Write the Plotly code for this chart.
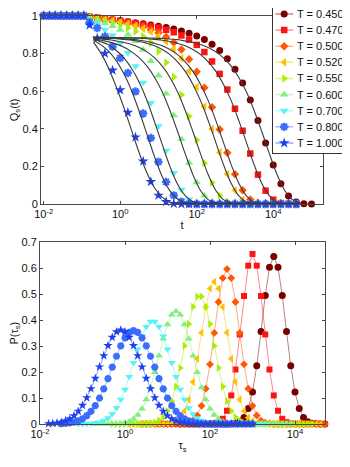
import plotly.graph_objects as go

# ── Series styling (legend order) ──────────────────────────────────────────────
TEMPS   = [0.450, 0.470, 0.500, 0.520, 0.550, 0.600, 0.700, 0.800, 1.000]
COLORS  = ["#7a0000", "#ff1414", "#ff560a", "#ffc000", "#a8f000",
           "#80f080", "#58f2f2", "#3a6cff", "#2040f0"]
SYMBOLS = ["circle", "square", "diamond", "triangle-left", "triangle-right",
           "triangle-up", "triangle-down", "asterisk", "star"]
SIZE_TOP = [7, 6.5, 6.5, 7.5, 7.5, 7.5, 7.5, 7, 8]
SIZE_BOT = [7, 6, 6, 7, 7, 7, 7, 6, 7]

AXIS_COLOR = "#4a4a4a"
FIT_COLOR  = "#3a3a3a"

# ── Top panel: Q_s(t), log10(t) grid ──────────────────────────────────────────
LOG_T = [-2.0, -1.85, -1.7, -1.55, -1.4, -1.25, -1.1, -0.95,
         -0.8, -0.6, -0.4, -0.2, 0.0, 0.2, 0.4, 0.6, 0.8, 1.0, 1.2, 1.4,
         1.6, 1.8, 2.0, 2.2, 2.4, 2.6, 2.8, 3.0, 3.2, 3.4, 3.6, 3.8, 4.0,
         4.2, 4.4, 4.6, 4.8, 5.0]
PLATEAU = [1.0, 1.0, 1.0, 1.0, 1.0, 1.0, 1.0, 1.0]

Q_045 = PLATEAU + [0.995, 0.990, 0.984, 0.979, 0.974, 0.968, 0.963, 0.957, 0.951, 0.944,
                   0.937, 0.929, 0.919, 0.907, 0.892, 0.873, 0.848, 0.815, 0.772, 0.716,
                   0.643, 0.552, 0.443, 0.324, 0.207, 0.108, 0.042, 0.011, 0.002, 0.0]
Q_047 = PLATEAU + [0.995, 0.990, 0.984, 0.978, 0.973, 0.967, 0.960, 0.953, 0.945, 0.937,
                   0.925, 0.912, 0.895, 0.873, 0.845, 0.807, 0.757, 0.691, 0.608, 0.506,
                   0.389, 0.268, 0.156, 0.071, 0.023, 0.005, 0.001, 0.0, None, None]
Q_050 = PLATEAU + [0.993, 0.988, 0.982, 0.975, 0.968, 0.960, 0.951, 0.940, 0.926, 0.909,
                   0.887, 0.858, 0.820, 0.769, 0.702, 0.618, 0.514, 0.396, 0.272, 0.158,
                   0.073, 0.024, 0.005, 0.001, 0.0, 0.0, 0.0, 0.0, None, None]
Q_052 = PLATEAU + [0.993, 0.987, 0.980, 0.973, 0.965, 0.956, 0.945, 0.931, 0.914, 0.892,
                   0.863, 0.824, 0.773, 0.706, 0.622, 0.517, 0.398, 0.274, 0.159, 0.073,
                   0.024, 0.005, 0.001, 0.0, 0.0, 0.0, 0.0, 0.0, None, None]
Q_055 = PLATEAU + [0.989, 0.982, 0.973, 0.963, 0.951, 0.935, 0.916, 0.890, 0.856, 0.810,
                   0.751, 0.675, 0.580, 0.466, 0.340, 0.217, 0.113, 0.045, 0.011, 0.002,
                   0.0, 0.0, 0.0, 0.0, 0.0, 0.0, 0.0, 0.0, None, None]
Q_060 = PLATEAU + [0.983, 0.973, 0.960, 0.945, 0.925, 0.899, 0.865, 0.819, 0.759, 0.682,
                   0.586, 0.471, 0.344, 0.219, 0.115, 0.045, 0.012, 0.002, 0.0, 0.0,
                   0.0, 0.0, 0.0, 0.0, 0.0, 0.0, 0.0, 0.0, None, None]
Q_070 = PLATEAU + [0.975, 0.955, 0.925, 0.895, 0.855, 0.802, 0.732, 0.645, 0.537, 0.413,
                   0.284, 0.165, 0.076, 0.025, 0.005, 0.001, 0.0, 0.0, 0.0, 0.0,
                   0.0, 0.0, 0.0, 0.0, 0.0, 0.0, 0.0, 0.0, None, None]
Q_080 = PLATEAU + [0.965, 0.935, 0.890, 0.836, 0.775, 0.696, 0.598, 0.481, 0.351, 0.224,
                   0.117, 0.046, 0.012, 0.002, 0.0, 0.0, 0.0, 0.0, 0.0, 0.0,
                   0.0, 0.0, 0.0, 0.0, 0.0, 0.0, 0.0, 0.0, None, None]
Q_100 = PLATEAU + [0.950, 0.880, 0.800, 0.710, 0.605, 0.486, 0.355, 0.227, 0.118, 0.046,
                   0.012, 0.002, 0.0, 0.0, 0.0, 0.0, 0.0, 0.0, 0.0, 0.0,
                   0.0, 0.0, 0.0, 0.0, 0.0, 0.0, 0.0, 0.0, None, None]
Q_SERIES = [Q_045, Q_047, Q_050, Q_052, Q_055, Q_060, Q_070, Q_080, Q_100]

# stretched-exponential fits (black lines)
FIT_LOG_T = [-0.7, -0.5, -0.3, -0.1, 0.1, 0.3, 0.5, 0.7, 0.9, 1.1, 1.3, 1.5, 1.7, 1.9,
             2.1, 2.3, 2.5, 2.7, 2.9, 3.1, 3.3, 3.5, 3.7, 3.9, 4.1, 4.3, 4.5, 4.7]
FIT_045 = [0.885, 0.885, 0.885, 0.884, 0.884, 0.883, 0.883, 0.882, 0.881, 0.879, 0.876,
           0.873, 0.866, 0.858, 0.847, 0.831, 0.808, 0.776, 0.732, 0.672, 0.595, 0.497,
           0.385, 0.266, 0.156, 0.072, 0.023, 0.005]
FIT_047 = [0.885, 0.884, 0.883, 0.883, 0.882, 0.881, 0.880, 0.878, 0.874, 0.870, 0.863,
           0.853, 0.840, 0.820, 0.793, 0.755, 0.704, 0.635, 0.549, 0.443, 0.326, 0.209,
           0.110, 0.043, 0.011, 0.002, 0.0, 0.0]
FIT_050 = [0.883, 0.882, 0.881, 0.880, 0.878, 0.874, 0.870, 0.863, 0.853, 0.840, 0.820,
           0.793, 0.755, 0.704, 0.635, 0.549, 0.443, 0.326, 0.209, 0.110, 0.043, 0.011,
           0.002, 0.0, 0.0, 0.0, 0.0, 0.0]
FIT_052 = [0.882, 0.881, 0.880, 0.878, 0.874, 0.870, 0.863, 0.853, 0.840, 0.820, 0.793,
           0.755, 0.704, 0.635, 0.549, 0.443, 0.326, 0.209, 0.110, 0.043, 0.011, 0.002,
           0.0, 0.0, 0.0, 0.0, 0.0, 0.0]
FIT_055 = [0.879, 0.876, 0.873, 0.866, 0.858, 0.847, 0.831, 0.808, 0.776, 0.732, 0.672,
           0.595, 0.497, 0.385, 0.266, 0.156, 0.072, 0.023, 0.005, 0.001, 0.0, 0.0,
           0.0, 0.0, 0.0, 0.0, 0.0, 0.0]
FIT_060 = [0.876, 0.870, 0.861, 0.849, 0.832, 0.808, 0.776, 0.732, 0.672, 0.595, 0.497,
           0.385, 0.266, 0.156, 0.072, 0.023, 0.005, 0.001, 0.0, 0.0, 0.0, 0.0,
           0.0, 0.0, 0.0, 0.0, 0.0, 0.0]
FIT_070 = [0.875, 0.862, 0.845, 0.815, 0.775, 0.720, 0.645, 0.550, 0.435, 0.315, 0.200,
           0.105, 0.045, 0.014, 0.003, 0.0, 0.0, 0.0, 0.0, 0.0, 0.0, 0.0,
           0.0, 0.0, 0.0, 0.0, 0.0, 0.0]
FIT_080 = [0.870, 0.845, 0.810, 0.760, 0.690, 0.600, 0.490, 0.370, 0.250, 0.145, 0.070,
           0.027, 0.008, 0.002, 0.0, 0.0, 0.0, 0.0, 0.0, 0.0, 0.0, 0.0,
           0.0, 0.0, 0.0, 0.0, 0.0, 0.0]
FIT_100 = [0.860, 0.800, 0.720, 0.620, 0.510, 0.390, 0.270, 0.165, 0.085, 0.035, 0.011,
           0.003, 0.0, 0.0, 0.0, 0.0, 0.0, 0.0, 0.0, 0.0, 0.0, 0.0,
           0.0, 0.0, 0.0, 0.0, 0.0, 0.0]
FIT_SERIES = [FIT_045, FIT_047, FIT_050, FIT_052, FIT_055, FIT_060, FIT_070, FIT_080, FIT_100]

# ── Bottom panel: P(tau_s), log10(tau) grid ───────────────────────────────────
LOG_TAU = [-1.8, -1.7, -1.6, -1.5, -1.4, -1.3, -1.2, -1.1, -1.0, -0.9, -0.8, -0.7,
           -0.6, -0.5, -0.4, -0.3, -0.2, -0.1, 0.0, 0.1, 0.2, 0.3, 0.4, 0.5, 0.6,
           0.7, 0.8, 0.9, 1.0, 1.1, 1.2, 1.3, 1.4, 1.5, 1.6, 1.7, 1.8, 1.9, 2.0,
           2.1, 2.2, 2.3, 2.4, 2.5, 2.6, 2.7, 2.8, 2.9, 3.0, 3.1, 3.2, 3.3, 3.4,
           3.5, 3.6, 3.7, 3.8, 3.9, 4.0, 4.1, 4.2, 4.3, 4.4, 4.5, 4.6, 4.7]
# first log10(tau) of each distribution
P_START = [1.3, 0.8, 0.4, 0.1, -0.3, -0.7, -1.1, -1.5, -1.8]

P_045 = [0.0] * 12 + [0.001, 0.003, 0.009, 0.025, 0.060, 0.123, 0.224, 0.356, 0.495, 0.604,
                      0.645, 0.604, 0.495, 0.356, 0.224, 0.123, 0.060, 0.025, 0.009, 0.003,
                      0.001, 0.0, 0.0]
P_047 = [0.0] * 12 + [0.001, 0.002, 0.007, 0.020, 0.051, 0.110, 0.210, 0.345, 0.493, 0.610,
                      0.655, 0.610, 0.493, 0.345, 0.210, 0.110, 0.051, 0.020, 0.007, 0.002,
                      0.001] + [0.0] * 7
P_050 = [0.0] * 10 + [0.002, 0.005, 0.013, 0.033, 0.070, 0.136, 0.230, 0.351, 0.470, 0.562,
                      0.597, 0.562, 0.470, 0.351, 0.230, 0.136, 0.070, 0.033, 0.013, 0.005,
                      0.002] + [0.0] * 13
P_052 = [0.0] * 9 + [0.001, 0.004, 0.011, 0.024, 0.050, 0.094, 0.162, 0.251, 0.352, 0.451,
                     0.522, 0.548, 0.522, 0.451, 0.352, 0.251, 0.162, 0.094, 0.050, 0.024,
                     0.011, 0.004, 0.001] + [0.0] * 14
P_055 = [0.0] * 8 + [0.001, 0.002, 0.005, 0.013, 0.026, 0.050, 0.088, 0.144, 0.216, 0.301,
                     0.385, 0.452, 0.491, 0.491, 0.452, 0.385, 0.301, 0.216, 0.144, 0.088,
                     0.050, 0.026, 0.013, 0.005, 0.002, 0.001] + [0.0] * 14
P_060 = [0.0] * 5 + [0.001, 0.002, 0.005, 0.010, 0.019, 0.035, 0.059, 0.094, 0.141, 0.199,
                     0.263, 0.328, 0.383, 0.421, 0.434, 0.421, 0.383, 0.328, 0.263, 0.199,
                     0.141, 0.094, 0.059, 0.035, 0.019, 0.010, 0.005, 0.002, 0.001] + [0.0] * 13
P_070 = [0.0, 0.0, 0.001, 0.002, 0.004, 0.007, 0.013, 0.023, 0.039, 0.062, 0.094, 0.133,
         0.182, 0.236, 0.288, 0.338, 0.375, 0.395, 0.395, 0.375, 0.338, 0.288, 0.236,
         0.182, 0.133, 0.094, 0.062, 0.039, 0.023, 0.013, 0.007, 0.004, 0.002, 0.001] + [0.0] * 11
P_080 = [0.001, 0.002, 0.004, 0.007, 0.012, 0.020, 0.032, 0.049, 0.071, 0.100, 0.135, 0.175,
         0.219, 0.261, 0.301, 0.332, 0.353, 0.360, 0.353, 0.332, 0.301, 0.261, 0.219,
         0.175, 0.135, 0.100, 0.071, 0.049, 0.032, 0.020, 0.012, 0.007, 0.004, 0.002,
         0.001] + [0.0] * 11
P_100 = [0.001, 0.002, 0.004, 0.007, 0.012, 0.020, 0.032, 0.049, 0.072, 0.101, 0.136, 0.176,
         0.220, 0.263, 0.302, 0.334, 0.355, 0.362, 0.355, 0.334, 0.302, 0.263, 0.220,
         0.176, 0.136, 0.101, 0.072, 0.049, 0.032, 0.020, 0.012, 0.007, 0.004, 0.002,
         0.001] + [0.0] * 14
P_SERIES = [P_045, P_047, P_050, P_052, P_055, P_060, P_070, P_080, P_100]

X_TICKS = [1e-2, 1e0, 1e2, 1e4]
X_TICKTEXT = ["10<sup>-2</sup>", "10<sup>0</sup>", "10<sup>2</sup>", "10<sup>4</sup>"]
Q_TICKS = [0, 0.2, 0.4, 0.6, 0.8, 1]
P_TICKS = [0, 0.1, 0.2, 0.3, 0.4, 0.5, 0.6, 0.7]


def rgba(hex_color, a):
    h = hex_color.lstrip("#")
    r, g, b = (int(h[i:i + 2], 16) for i in (0, 2, 4))
    return f"rgba({r},{g},{b},{a})"


def marker_style(color, symbol, size):
    if symbol == "asterisk":
        return dict(symbol=symbol, size=size, color=color, line=dict(color=color, width=2.2))
    return dict(symbol=symbol, size=size, color=color, line=dict(width=0))


def num_label(v):
    return f"{v:g}"


fig = go.Figure()

# top panel: data markers
for q, c, s, ms in zip(Q_SERIES, COLORS, SYMBOLS, SIZE_TOP):
    fig.add_trace(go.Scatter(
        x=[10 ** v for v in LOG_T], y=q, mode="markers",
        marker=marker_style(c, s, ms), cliponaxis=False,
        xaxis="x", yaxis="y", hoverinfo="skip",
    ))

# top panel: fits
for f in FIT_SERIES:
    fig.add_trace(go.Scatter(
        x=[10 ** v for v in FIT_LOG_T], y=f, mode="lines",
        line=dict(color=FIT_COLOR, width=1.1, shape="spline"),
        xaxis="x", yaxis="y", hoverinfo="skip",
    ))

# bottom panel: distributions
for p, start, c, s, ms in zip(P_SERIES, P_START, COLORS, SYMBOLS, SIZE_BOT):
    i0 = round((start - LOG_TAU[0]) * 10)
    xs = LOG_TAU[i0:i0 + len(p)]
    fig.add_trace(go.Scatter(
        x=[10 ** v for v in xs], y=p, mode="lines+markers",
        line=dict(color=rgba(c, 0.5), width=1),
        marker=marker_style(c, s, ms), cliponaxis=False,
        xaxis="x2", yaxis="y2", hoverinfo="skip",
    ))

# legend box (inset axes so it hides the frame behind it)
for k, (T, c, s, ms) in enumerate(zip(TEMPS, COLORS, SYMBOLS, SIZE_TOP)):
    fig.add_trace(go.Scatter(
        x=[2.3, 20.3], y=[k, k], mode="lines",
        line=dict(color=rgba(c, 0.45), width=1.5),
        xaxis="x3", yaxis="y3", hoverinfo="skip",
    ))
    fig.add_trace(go.Scatter(
        x=[11.2], y=[k], mode="markers", marker=marker_style(c, s, ms),
        xaxis="x3", yaxis="y3", hoverinfo="skip",
    ))
    fig.add_annotation(
        x=22.5, y=k, xref="x3", yref="y3", text=f"T = {T:.3f}",
        showarrow=False, xanchor="left", yanchor="middle",
        font=dict(size=11, color="#111"),
    )

AX = dict(
    showline=True, linecolor=AXIS_COLOR, linewidth=1, mirror="ticks",
    ticks="inside", ticklen=3, tickcolor=AXIS_COLOR, tickwidth=1,
    showgrid=False, zeroline=False, automargin=False,
    tickfont=dict(size=11, color="#111"),
)
LEG_AX = dict(
    showline=True, linecolor="#333333", linewidth=1, mirror=True,
    ticks="", showticklabels=False, showgrid=False, zeroline=False,
)

# the page body keeps an 8px margin, so the figure is sized to the visible area
fig.update_layout(
    width=342, height=459,
    margin=dict(l=32, r=6, t=0, b=43, autoexpand=False),
    paper_bgcolor="white", plot_bgcolor="white", showlegend=False,
    font=dict(family="Liberation Sans, Arial, Helvetica, sans-serif", size=11, color="#111"),
    xaxis=dict(type="log", domain=[0.00329, 0.9309], range=[-2.07, 5.30], anchor="y",
               tickvals=X_TICKS, ticktext=X_TICKTEXT,
               title=dict(text="t", standoff=2, font=dict(size=11)), **AX),
    yaxis=dict(domain=[0.5288, 0.9815], range=[0, 1], anchor="x",
               tickvals=Q_TICKS, ticktext=[num_label(v) for v in Q_TICKS],
               title=dict(text="Q<sub>s</sub>(t)", standoff=4, font=dict(size=11)), **AX),
    xaxis2=dict(type="log", domain=[0.0, 0.9375], range=[-2.0, 4.706], anchor="y2",
                tickvals=X_TICKS, ticktext=X_TICKTEXT,
                title=dict(text="τ<sub>s</sub>", standoff=2, font=dict(size=11)), **AX),
    yaxis2=dict(domain=[0.0, 0.4368], range=[0, 0.7], anchor="x2",
                tickvals=P_TICKS, ticktext=[num_label(v) for v in P_TICKS],
                title=dict(text="P(τ<sub>s</sub>)", standoff=4, font=dict(size=11)), **AX),
    xaxis3=dict(domain=[0.7664, 0.9984], range=[0, 70.5], anchor="y3", **LEG_AX),
    yaxis3=dict(domain=[0.6507, 0.9988], range=[8.64, -0.34], anchor="x3", **LEG_AX),
)

fig.write_html("out.html")
